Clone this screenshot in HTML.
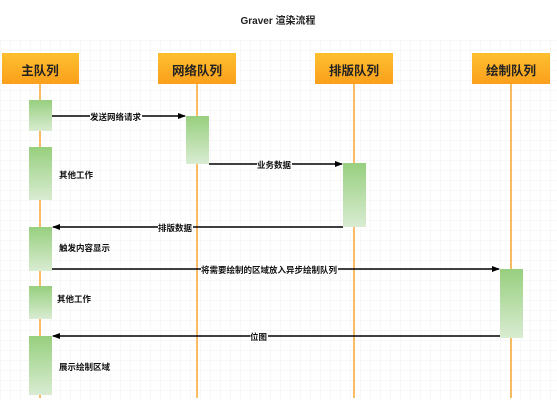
<!DOCTYPE html>
<html><head><meta charset="utf-8"><style>
html,body{margin:0;padding:0;background:#fff;}
svg{display:block;font-family:"Liberation Sans","Noto Sans CJK SC",sans-serif;}
</style></head><body>
<svg width="557" height="413" viewBox="0 0 557 413" xmlns="http://www.w3.org/2000/svg">
<defs>
<linearGradient id="g" x1="0" y1="0" x2="0" y2="1"><stop offset="0" stop-color="#97cf7e"/><stop offset="1" stop-color="#d9ecd2"/></linearGradient>
<linearGradient id="o" x1="0" y1="0" x2="0" y2="1"><stop offset="0" stop-color="#fdc02f"/><stop offset="1" stop-color="#fb9f1c"/></linearGradient>
<marker id="a" markerWidth="8" markerHeight="8" refX="7" refY="4" orient="auto" markerUnits="userSpaceOnUse"><path d="M0,1 L8,4 L0,7 z" fill="#000"/></marker>
<pattern id="grid" width="10" height="10" patternUnits="userSpaceOnUse"><path d="M10 0 L0 0 0 10" fill="none" stroke="#f2f2f2" stroke-width="1"/></pattern>
</defs>
<rect x="0" y="40" width="557" height="360" fill="url(#grid)"/>
<text x="278" y="24" font-size="10" font-weight="bold" text-anchor="middle" fill="#222">Graver 渲染流程</text>
<g stroke="#f7a531" stroke-width="1.5">
<line x1="40" y1="84" x2="40" y2="398"/><line x1="197" y1="84" x2="197" y2="398"/>
<line x1="354" y1="84" x2="354" y2="398"/><line x1="511" y1="84" x2="511" y2="398"/>
</g>
<g fill="url(#o)">
<rect x="2" y="53" width="77" height="31"/><rect x="158" y="53" width="78" height="31"/>
<rect x="315" y="53" width="78" height="31"/><rect x="472" y="53" width="78" height="31"/>
</g>
<g font-size="12.5" text-anchor="middle" fill="#222" font-weight="bold">
<text x="40" y="75">主队列</text><text x="197" y="75">网络队列</text>
<text x="354" y="75">排版队列</text><text x="511" y="75">绘制队列</text>
</g>
<g fill="url(#g)">
<rect x="29" y="100" width="23" height="31"/><rect x="29" y="147" width="23" height="53"/>
<rect x="29" y="227" width="23" height="44"/><rect x="29" y="286" width="23" height="33"/>
<rect x="29" y="336" width="23" height="59"/>
<rect x="186" y="116" width="23" height="48"/><rect x="343" y="163" width="23" height="64"/>
<rect x="500" y="269" width="23" height="69"/>
</g>
<g stroke="#000" stroke-width="1.4" marker-end="url(#a)">
<line x1="52" y1="116" x2="185" y2="116"/><line x1="209" y1="164" x2="342" y2="164"/>
<line x1="343" y1="227" x2="53" y2="227"/><line x1="52" y1="269" x2="499" y2="269"/>
<line x1="500" y1="336" x2="53" y2="336"/>
</g>
<g font-size="8.5" fill="#111" font-weight="bold">
<rect x="90" y="111" width="52" height="10" fill="#fff"/><text x="90" y="120">发送网络请求</text>
<rect x="257" y="159" width="35" height="10" fill="#fff"/><text x="257" y="168">业务数据</text>
<rect x="158" y="222" width="35" height="10" fill="#fff"/><text x="158" y="231">排版数据</text>
<rect x="201" y="264" width="137" height="10" fill="#fff"/><text x="201" y="273">将需要绘制的区域放入异步绘制队列</text>
<rect x="250" y="331" width="18" height="10" fill="#fff"/><text x="250" y="340">位图</text>
<text x="59" y="178">其他工作</text><text x="59" y="251">触发内容显示</text>
<text x="57" y="302">其他工作</text><text x="59" y="370">展示绘制区域</text>
</g>
</svg>
</body></html>
